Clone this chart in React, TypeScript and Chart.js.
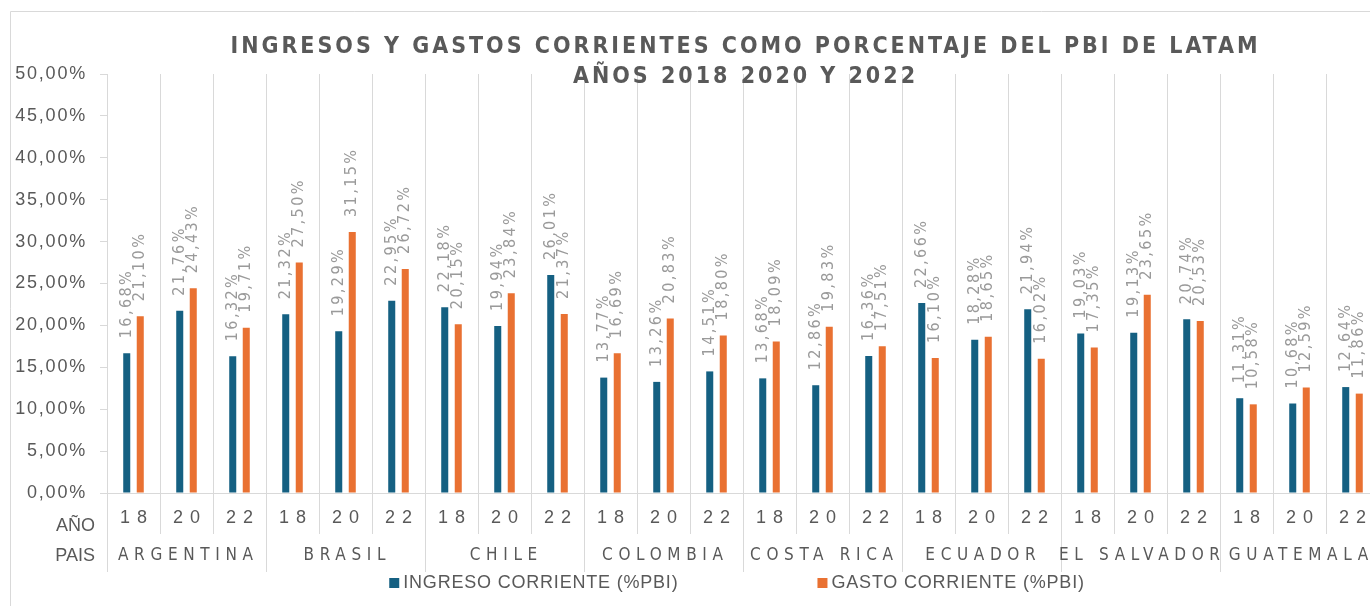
import { useEffect, useRef } from 'react';
import { Chart, registerables } from 'chart.js';

Chart.register(...registerables);

// ---------- data ----------
const COUNTRIES = ['ARGENTINA', 'BRASIL', 'CHILE', 'COLOMBIA', 'COSTA RICA', 'ECUADOR', 'EL SALVADOR', 'GUATEMALA'];
const YEARS = ['18', '20', '22'];
const CATEGORIES = COUNTRIES.flatMap((c) => YEARS.map((y) => `${c} ${y}`));
const INGRESO = [
  16.68, 21.76, 16.32,
  21.32, 19.29, 22.95,
  22.18, 19.94, 26.01,
  13.77, 13.26, 14.51,
  13.68, 12.86, 16.36,
  22.66, 18.28, 21.94,
  19.03, 19.13, 20.74,
  11.31, 10.68, 12.64,
];
const GASTO = [
  21.10, 24.43, 19.71,
  27.50, 31.15, 26.72,
  20.15, 23.84, 21.37,
  16.69, 20.83, 18.80,
  18.09, 19.83, 17.51,
  16.10, 18.65, 16.02,
  17.35, 23.65, 20.53,
  10.58, 12.59, 11.86,
];
const SERIES_NAMES = ['INGRESO CORRIENTE (%PBI)', 'GASTO CORRIENTE (%PBI)'];
const TITLE_LINES = ['INGRESOS Y GASTOS CORRIENTES COMO PORCENTAJE DEL PBI DE LATAM', 'AÑOS 2018 2020 Y 2022'];
const AXIS_HEADERS = ['AÑO', 'PAIS'];
const Y_MIN = 0;
const Y_MAX = 50;
const Y_STEP = 5;

// ---------- styles ----------
const BLUE = '#156082';
const ORANGE = '#E97132';
const GRID = '#d9d9d9';
const TXT = '#595959';
const LABEL = '#9a9a9a';
const SANS = "'Liberation Sans', Arial, sans-serif";
const NARROW = "'Liberation Sans Narrow', 'DejaVu Sans Condensed', 'Liberation Sans', sans-serif";
const CX = 744;

const fmtPct = (v: number) => v.toFixed(2).replace('.', ',') + '%';
const align = (x: number) => Math.round(x - 0.5) + 0.5;

// letter spacing so that `sample` spans `target` px
const fitSpacing = (ctx: CanvasRenderingContext2D, sample: string, target: number) => {
  ctx.letterSpacing = '0px';
  const w = ctx.measureText(sample).width;
  return (target - w) / ([...sample].length - 1);
};

const decorPlugin = {
  id: 'decor',
  beforeDraw(chart: any) {
    const ctx = chart.ctx;
    ctx.save();
    ctx.strokeStyle = GRID;
    ctx.lineWidth = 1;
    ctx.beginPath();
    ctx.moveTo(10.5, chart.height);
    ctx.lineTo(10.5, 11.5);
    ctx.lineTo(chart.width, 11.5);
    ctx.stroke();
    ctx.restore();
    ctx.letterSpacing = '1.8px';
  },
  afterDatasetsDraw(chart: any) {
    const ctx = chart.ctx;
    ctx.save();
    ctx.font = `16px ${NARROW}`;
    const sp = fitSpacing(ctx, '00,00%', 67);
    ctx.letterSpacing = `${sp}px`;
    ctx.fillStyle = LABEL;
    ctx.textAlign = 'left';
    ctx.textBaseline = 'middle';
    chart.data.datasets.forEach((ds: any, di: number) => {
      const meta = chart.getDatasetMeta(di);
      meta.data.forEach((el: any, i: number) => {
        ctx.save();
        ctx.translate(el.x, el.y - 15);
        ctx.rotate(-Math.PI / 2);
        ctx.fillText(fmtPct(ds.data[i]), 0, 0);
        ctx.restore();
      });
    });
    ctx.restore();
  },
  afterDraw(chart: any) {
    const ctx = chart.ctx;
    const xs = chart.scales.x;
    const area = chart.chartArea;
    const n = chart.data.labels.length;
    const cw = xs.width / n;
    const axisY = area.bottom;
    ctx.save();

    // separators below the axis
    ctx.strokeStyle = GRID;
    ctx.lineWidth = 1;
    for (let b = 0; b <= n; b++) {
      const x = align(xs.left + b * cw);
      ctx.beginPath();
      ctx.moveTo(x, axisY);
      ctx.lineTo(x, b % YEARS.length === 0 ? axisY + 79 : axisY + 41);
      ctx.stroke();
    }

    ctx.fillStyle = TXT;
    ctx.textBaseline = 'middle';

    // year labels
    ctx.textAlign = 'center';
    ctx.font = `18px ${SANS}`;
    const ysp = fitSpacing(ctx, '18', 27);
    ctx.letterSpacing = `${ysp}px`;
    for (let i = 0; i < n; i++) {
      ctx.fillText(YEARS[i % YEARS.length], xs.getPixelForValue(i) + ysp / 2, axisY + 25);
    }

    // country labels
    ctx.font = `17px ${NARROW}`;
    const csp = fitSpacing(ctx, 'ARGENTINA', 135);
    ctx.letterSpacing = `${csp}px`;
    COUNTRIES.forEach((c, g) => {
      const a = xs.getPixelForValue(g * YEARS.length);
      const b = xs.getPixelForValue(g * YEARS.length + YEARS.length - 1);
      ctx.fillText(c, (a + b) / 2 + csp / 2 - 1, axisY + 63);
    });

    // row headers
    ctx.textAlign = 'right';
    ctx.font = `18px ${SANS}`;
    ctx.letterSpacing = '0px';
    ctx.fillText(AXIS_HEADERS[0], 95, axisY + 33);
    ctx.fillText(AXIS_HEADERS[1], 95, axisY + 63);

    // title
    ctx.textAlign = 'left';
    ctx.textBaseline = 'alphabetic';
    ctx.font = `bold 23px ${NARROW}`;
    ctx.fillStyle = TXT;
    const sp = fitSpacing(ctx, TITLE_LINES[0], 1027);
    TITLE_LINES.forEach((t, k) => {
      ctx.letterSpacing = '0px';
      const w = ctx.measureText(t).width;
      const total = w + sp * ([...t].length - 1);
      ctx.letterSpacing = `${sp}px`;
      ctx.fillText(t, CX - total / 2, k === 0 ? 53 : 83);
    });

    // legend
    ctx.letterSpacing = '0.8px';
    ctx.font = `18px ${SANS}`;
    ctx.textBaseline = 'middle';
    const items = chart.data.datasets.map((ds: any) => ({
      label: ds.label,
      color: ds.backgroundColor,
      w: ctx.measureText(ds.label).width,
    }));
    const box = 10;
    const gapBT = 4;
    const gapItems = 139;
    const total = items.reduce((s: number, it: any) => s + box + gapBT + it.w, 0) + gapItems * (items.length - 1);
    let x = 737 - total / 2;
    const ly = axisY + 90;
    items.forEach((it: any) => {
      ctx.fillStyle = it.color;
      ctx.fillRect(x, ly - 5, box, box);
      ctx.fillStyle = TXT;
      ctx.fillText(it.label, x + box + gapBT, ly);
      x += box + gapBT + it.w + gapItems;
    });

    ctx.restore();
    ctx.letterSpacing = '0px';
  },
};

export default function App() {
  const ref = useRef<HTMLCanvasElement | null>(null);

  useEffect(() => {
    if (!ref.current) return;
    const chart = new Chart(ref.current, {
      type: 'bar',
      data: {
        labels: CATEGORIES,
        datasets: [
          {
            label: SERIES_NAMES[0],
            data: INGRESO,
            backgroundColor: BLUE,
            categoryPercentage: 0.51,
            barPercentage: 0.52,
          },
          {
            label: SERIES_NAMES[1],
            data: GASTO,
            backgroundColor: ORANGE,
            categoryPercentage: 0.51,
            barPercentage: 0.52,
          },
        ],
      },
      options: {
        responsive: false,
        animation: false,
        layout: { padding: { left: 10, top: 74, right: 6, bottom: 113 } },
        plugins: {
          legend: { display: false },
          title: { display: false },
          tooltip: { enabled: false },
        },
        scales: {
          x: {
            type: 'category',
            offset: true,
            grid: { display: true, offset: true, color: GRID, drawTicks: false, lineWidth: 1 },
            border: { display: true, color: GRID },
            ticks: { display: false },
            afterFit: (s: any) => {
              s.height = 0;
            },
          },
          y: {
            min: Y_MIN,
            max: Y_MAX,
            ticks: {
              stepSize: Y_STEP,
              callback: (v: any) => fmtPct(Number(v)),
              font: { size: 18, family: SANS },
              color: TXT,
              padding: 13,
            },
            grid: { display: true, drawOnChartArea: false, drawTicks: true, tickLength: 7, color: GRID },
            border: { display: true, color: GRID },
            afterFit: (s: any) => {
              s.width = 97;
            },
          },
        },
      },
      plugins: [decorPlugin],
    });
    return () => chart.destroy();
  }, []);

  return (
    <div style={{ position: 'fixed', left: 0, top: 0, width: 1370, height: 606, overflow: 'hidden', background: '#fff' }}>
      <canvas ref={ref} width={1385} height={606} style={{ display: 'block' }} />
    </div>
  );
}
